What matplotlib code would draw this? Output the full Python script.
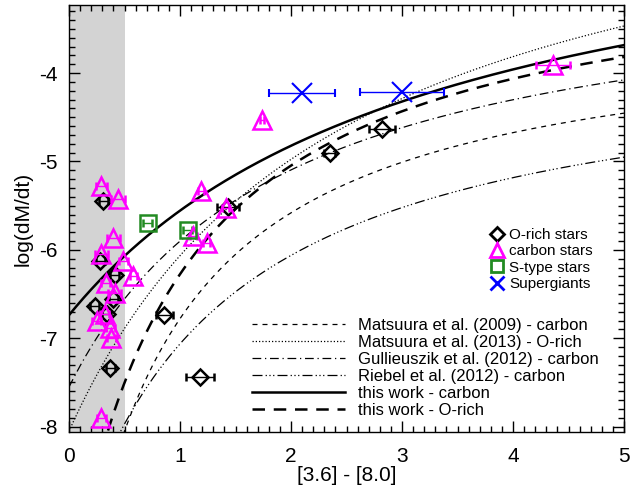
import numpy as np
import matplotlib
matplotlib.use("Agg")
import matplotlib.pyplot as plt
from matplotlib.lines import Line2D
from matplotlib.ticker import MultipleLocator

plt.rcParams['font.family'] = ['Liberation Sans', 'DejaVu Sans']
plt.rcParams['axes.unicode_minus'] = False

# O-rich stars
orich_x = [0.31, 0.28, 0.41, 0.23, 0.40, 0.34, 0.37, 0.86, 1.18, 1.43, 2.35, 2.82]
orich_y = [-5.45, -6.13, -6.28, -6.64, -6.56, -6.73, -7.34, -6.74, -7.44, -5.51, -4.90, -4.63]
orich_xerr = [0.04, 0.04, 0.04, 0.04, 0.04, 0.04, 0.04, 0.08, 0.13, 0.10, 0.05, 0.12]

# carbon stars
carb_x = [0.29, 0.44, 0.40, 0.29, 0.49, 0.58, 0.33, 0.41, 0.32, 0.25, 0.37, 0.38, 0.29,
          1.19, 1.41, 1.12, 1.24, 1.74, 4.36]
carb_y = [-5.28, -5.42, -5.87, -6.05, -6.13, -6.29, -6.38, -6.49, -6.73, -6.81, -6.88, -7.00, -7.90,
          -5.33, -5.53, -5.84, -5.92, -4.53, -3.91]
carb_xerr = [0.05, 0.06, 0.06, 0.06, 0.04, 0.03, 0.04, 0.06, 0.04, 0.04, 0.04, 0.04, 0.04,
             0.03, 0.03, 0.03, 0.03, 0.02, 0.15]

# S-type stars
stype_x = [0.71, 1.07]
stype_y = [-5.70, -5.77]
stype_xerr = [0.04, 0.04]

# supergiants
sg_x = [2.10, 3.00]
sg_y = [-4.22, -4.21]
sg_xerr = [0.30, 0.38]

# relations: log(dM/dt) = c + a / (x + b)
rel_labels = ['Matsuura et al. (2009) - carbon', 'Matsuura et al. (2013) - O-rich',
              'Gullieuszik et al. (2012) - carbon', 'Riebel et al. (2012) - carbon',
              'this work - carbon', 'this work - O-rich']
rel_a = [-6.20, -16.55, -9.17, -7.88, -16.59, -7.37]
rel_b = [0.83, 2.43, 1.91, 1.35, 3.28, 1.00]
rel_c = [-3.39, -1.24, -2.75, -3.71, -1.68, -2.59]
rel_lw = [0.9, 0.9, 0.9, 0.9, 1.8, 1.8]
rel_dash = [(4, 4), (1, 1.6), (7, 3, 1, 3), (8, 2.5, 1, 2, 1, 2, 1, 2.5), None, (5, 3.5)]

fig = plt.figure(figsize=(6.31, 4.91), dpi=100)
ax = fig.add_axes([69/631, 1 - 432/491, 555/631, 427/491])

ax.axvspan(0, 0.5, color='#d3d3d3', lw=0, zorder=0)

xx = np.linspace(0.0, 5.0, 600)
line_handles = []
for a, b, c, lw, ds, lab in zip(rel_a, rel_b, rel_c, rel_lw, rel_dash, rel_labels):
    ln, = ax.plot(xx, c + a / (xx + b), color='black', lw=lw, label=lab, zorder=2)
    if ds is not None:
        ln.set_dashes(ds)
    line_handles.append(ln)

ax.errorbar(orich_x, orich_y, xerr=orich_xerr, fmt='D', ms=8.5, mfc='none', mec='black',
            mew=1.8, ecolor='black', elinewidth=1, capsize=3, zorder=3)
ax.errorbar(carb_x, carb_y, xerr=carb_xerr, fmt='^', ms=13, mfc='none', mec='magenta',
            mew=1.8, ecolor='magenta', elinewidth=1, capsize=3, zorder=4)
ax.errorbar(stype_x, stype_y, xerr=stype_xerr, fmt='s', ms=12, mfc='none', mec='forestgreen',
            mew=1.8, ecolor='forestgreen', elinewidth=1, capsize=3, zorder=4)
ax.errorbar(sg_x, sg_y, xerr=sg_xerr, fmt='x', ms=14, mec='blue', mew=1.5,
            ecolor='blue', elinewidth=1, capsize=3, zorder=4)

ax.set_xlim(0, 5)
ax.set_ylim(-8.06, -3.23)
ax.xaxis.set_major_locator(MultipleLocator(1))
ax.xaxis.set_minor_locator(MultipleLocator(0.1))
ax.yaxis.set_major_locator(MultipleLocator(1))
ax.yaxis.set_minor_locator(MultipleLocator(0.1))
ax.tick_params(which='both', direction='in', top=True, right=True, labelsize=15, width=1)
ax.tick_params(which='major', length=8)
ax.tick_params(which='minor', length=4)
ax.tick_params(axis='x', which='major', pad=11)
ax.tick_params(axis='y', which='major', pad=8)
for sp in ax.spines.values():
    sp.set_linewidth(1)

ax.set_xlabel('[3.6] - [8.0]', fontsize=15, labelpad=0)
ax.set_ylabel('log(dM/dt)', fontsize=15, labelpad=5)

marker_handles = [
    Line2D([], [], ls='none', marker='D', ms=7, mfc='none', mec='black', mew=2),
    Line2D([], [], ls='none', marker='^', ms=10, mfc='none', mec='magenta', mew=2),
    Line2D([], [], ls='none', marker='s', ms=9, mfc='none', mec='forestgreen', mew=2),
    Line2D([], [], ls='none', marker='x', ms=10, mec='blue', mew=2),
]
leg1 = fig.legend(marker_handles, ['O-rich stars', 'carbon stars', 'S-type stars', 'Supergiants'],
                  loc='upper left', bbox_to_anchor=(490/631, 1 - 228/491), frameon=False,
                  fontsize=11, handlelength=0.95, handletextpad=0.3, labelspacing=0.15,
                  borderpad=0, borderaxespad=0)
leg2 = fig.legend(line_handles, rel_labels, loc='upper left',
                  bbox_to_anchor=(252/631, 1 - 318/491), frameon=False,
                  fontsize=12, handlelength=5.6, handletextpad=0.75, labelspacing=0.12,
                  borderpad=0, borderaxespad=0)

fig.savefig('out.png', dpi=100)
